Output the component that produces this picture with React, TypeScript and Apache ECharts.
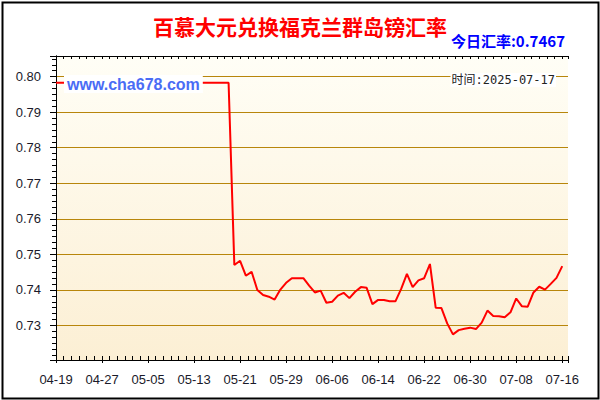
import * as echarts from 'echarts';
import React, { useEffect, useRef } from 'react';

// one label every 8 days, first day is 04-19
const xLabels = [
  '04-19', '04-27', '05-05', '05-13', '05-21', '05-29',
  '06-06', '06-14', '06-22', '06-30', '07-08', '07-16',
];

// daily rate, 04-19 .. 07-16
const rates = [
  0.7983, 0.7983, 0.7983, 0.7983, 0.7983, 0.7983, 0.7983, 0.7983, 0.7983, 0.7983,
  0.7983, 0.7983, 0.7983, 0.7983, 0.7983, 0.7983, 0.7983, 0.7983, 0.7983, 0.7983,
  0.7983, 0.7983, 0.7983, 0.7983, 0.7983, 0.7983, 0.7983, 0.7983, 0.7983, 0.7983,
  0.7983, 0.747, 0.7482, 0.744, 0.7451, 0.74, 0.7386, 0.7381, 0.7373, 0.7401,
  0.742, 0.7433, 0.7433, 0.7433, 0.7412, 0.7393, 0.7398, 0.7364, 0.7367, 0.7384,
  0.7392, 0.7377, 0.7395, 0.7408, 0.7406, 0.736, 0.7372, 0.7372, 0.7368, 0.7368,
  0.7403, 0.7445, 0.7408, 0.7427, 0.7433, 0.7473, 0.735, 0.7349, 0.7306, 0.7275,
  0.7287, 0.7291, 0.7294, 0.729, 0.7308, 0.7342, 0.7327, 0.7326, 0.7323, 0.7337,
  0.7376, 0.7354, 0.7353, 0.7393, 0.7409, 0.7401, 0.7417, 0.7434, 0.7467,
];

const titleText = '百慕大元兑换福克兰群岛镑汇率';
const todayText = '今日汇率:0.7467';
const dateText = '时间:2025-07-17';
const siteText = 'www.cha678.com';

const Y_MIN = 0.7203;
const Y_MAX = 0.8058;
const X_MAX = 89;
// minor tick axis: 6 minor steps per 8 days
const X_MINOR_MAX = (X_MAX * 6) / 8;

const RateChart: React.FC = () => {
  const chartRef = useRef<HTMLDivElement>(null);

  useEffect(() => {
    document.body.style.margin = '0';
    let chart: echarts.ECharts | undefined;
    if (chartRef.current) {
      chart = echarts.init(chartRef.current, undefined, { renderer: 'svg' });

      const isMajor = (v: number) => Math.abs(v * 100 - Math.round(v * 100)) < 1e-6;

      const option: echarts.EChartsOption = {
        animation: false,
        backgroundColor: '#ffffff',
        textStyle: { fontFamily: 'Liberation Sans, Arial, sans-serif' },
        title: {
          text: titleText,
          left: 'center',
          top: 10,
          textStyle: {
            color: '#ff0000',
            fontSize: 21,
            fontWeight: 'bold',
            fontFamily: 'Noto Sans CJK SC',
          },
        },
        grid: {
          left: 56,
          top: 56,
          right: 32,
          bottom: 40,
          show: true,
          borderWidth: 0,
          backgroundColor: new echarts.graphic.LinearGradient(0, 0, 0, 1, [
            { offset: 0, color: '#fffef6' },
            { offset: 1, color: '#fcefd4' },
          ]),
        },
        xAxis: [
          {
            type: 'value',
            position: 'bottom',
            min: 0,
            max: X_MAX,
            interval: 8,
            axisLine: { show: true, lineStyle: { color: '#000', width: 1 } },
            axisTick: { show: true, inside: false, length: 3, lineStyle: { color: '#000' } },
            axisLabel: {
              margin: 13,
              color: '#1a1a2a',
              fontSize: 13,
              formatter: (v: number) => (v % 8 === 0 ? xLabels[v / 8] ?? '' : ''),
            },
            splitLine: { show: false },
          },
          {
            type: 'value',
            position: 'bottom',
            min: 0,
            max: X_MINOR_MAX,
            interval: 1,
            axisLine: { show: false },
            axisTick: { show: true, inside: true, length: 4, lineStyle: { color: '#000' } },
            axisLabel: { show: false },
            splitLine: { show: false },
          },
          {
            type: 'value',
            position: 'top',
            min: 0,
            max: X_MINOR_MAX,
            interval: 1,
            axisLine: { show: true, lineStyle: { color: '#000', width: 1 } },
            axisTick: { show: true, inside: true, length: 3, lineStyle: { color: '#000' } },
            axisLabel: { show: false },
            splitLine: { show: false },
          },
        ],
        yAxis: [
          {
            type: 'value',
            position: 'left',
            min: Y_MIN,
            max: Y_MAX,
            splitNumber: 8,
            axisLine: { show: true, lineStyle: { color: '#000', width: 1 } },
            axisTick: { show: true, inside: false, length: 6, lineStyle: { color: '#000' } },
            minorTick: { show: true, splitNumber: 6, length: 4, lineStyle: { color: '#000' } },
            axisLabel: {
              margin: 15,
              color: '#1a1a2a',
              fontSize: 13,
              formatter: (v: number) => (isMajor(v) ? v.toFixed(2) : ''),
            },
            splitLine: {
              show: true,
              lineStyle: { color: '#b8860b', width: 1 },
            },
          },
          {
            type: 'value',
            position: 'right',
            min: Y_MIN,
            max: Y_MAX,
            splitNumber: 8,
            axisLine: { show: true, lineStyle: { color: '#000', width: 1 } },
            axisTick: { show: true, inside: true, length: 4, lineStyle: { color: '#000' } },
            minorTick: { show: true, splitNumber: 6, length: 3, lineStyle: { color: '#000' } },
            axisLabel: { show: false },
            splitLine: { show: false },
          },
        ],
        series: [
          {
            name: 'rate',
            type: 'line',
            xAxisIndex: 0,
            yAxisIndex: 0,
            data: rates.map((v, i) => [i, v]),
            showSymbol: false,
            symbol: 'none',
            lineStyle: { color: '#ff0000', width: 2 },
            z: 3,
          },
        ],
        graphic: [
          {
            type: 'text',
            right: 35,
            top: 33,
            z: 100,
            style: {
              text: todayText,
              fill: '#0000ff',
              font: 'bold 15px "Noto Sans CJK SC", sans-serif',
            },
          },
          {
            type: 'text',
            left: 64,
            top: 75,
            z: 100,
            style: {
              text: siteText,
              fill: '#4a6cf5',
              font: 'bold 16px "Liberation Sans", Arial, sans-serif',
              backgroundColor: '#ffffff',
              padding: [1, 3, 1, 3],
            },
          },
          {
            type: 'text',
            right: 44,
            top: 73,
            z: 100,
            style: {
              text: dateText,
              fill: '#222',
              font: '12px "DejaVu Sans Mono", "Noto Sans CJK SC", monospace',
              backgroundColor: '#ffffff',
              padding: [1, 1, 1, 1],
            },
          },
          {
            type: 'rect',
            left: 0,
            top: 0,
            z: 100,
            shape: { x: 1, y: 1, width: 596, height: 396 },
            style: { fill: 'none', stroke: '#000', lineWidth: 2 },
          },
        ],
      };

      chart.setOption(option);
    }

    return () => {
      chart?.dispose();
    };
  }, []);

  return <div ref={chartRef} style={{ width: '600px', height: '400px' }} />;
};

export default function App() {
  return <RateChart />;
}
